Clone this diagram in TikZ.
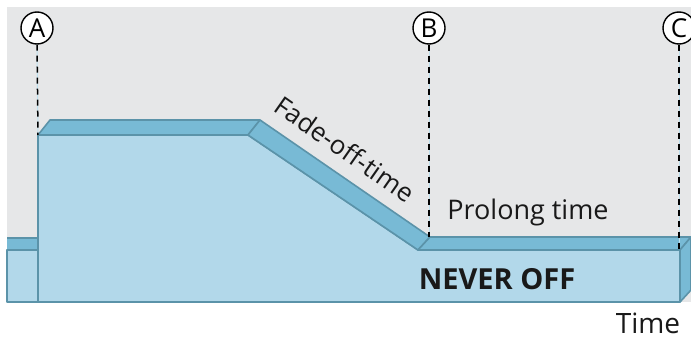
\documentclass[tikz,border=0pt]{standalone}
\usepackage{fontspec}
\setmainfont{Open Sans}
\definecolor{bggray}{HTML}{E6E7E8}
\definecolor{frontblue}{HTML}{B2D8EA}
\definecolor{topblue}{HTML}{78BAD5}
\definecolor{edgeblue}{HTML}{5B93A9}
\definecolor{paleline}{HTML}{BFE0EE}
\begin{document}
\begin{tikzpicture}[x=1pt,y=-1pt,
  face/.style={fill=frontblue,draw=edgeblue,line width=1.6pt,line join=round},
  topface/.style={fill=topblue,draw=edgeblue,line width=1.6pt,line join=round},
  marker/.style={circle,draw=black,fill=white,line width=1.4pt,minimum size=32pt,inner sep=0pt,font=\fontsize{26}{26}\selectfont},
  guide/.style={black,line width=1.5pt,dash pattern=on 6pt off 5pt},
  pale/.style={paleline,line width=1pt},
  lbl/.style={inner sep=0pt,text=black!90}]
\useasboundingbox (0,0) rectangle (691,340);
\fill[bggray] (7,7) rectangle (691,302);
% front faces
\path[face] (7,250) -- (38,250) -- (38,302) -- (7,302) -- cycle;
\path[face] (38,135) -- (248,135) -- (418,250) -- (680,250) -- (680,302) -- (38,302) -- cycle;
% top faces
\path[topface] (7,238) -- (38,238) -- (38,250) -- (7,250);
\path[topface] (38,135) -- (50,120) -- (260,120) -- (248,135) -- cycle;
\path[topface] (248,135) -- (260,120) -- (430,237) -- (418,250) -- cycle;
\path[topface] (418,250) -- (430,237) -- (691,237) -- (680,250) -- cycle;
\path[topface] (680,250) -- (691,237) -- (691,290) -- (680,302) -- cycle;
% markers
\node[marker] (A) at (37,28) {A};
\node[marker] (B) at (429,28) {B};
\node[marker] (C) at (679,28) {C};
\coordinate (a) at (38,135);
\coordinate (b) at (429,237);
\coordinate (c) at (679,249);
\draw[pale] (A.south) -- (a);
\draw[pale] (B.south) -- (b);
\draw[pale] (C.south) -- (c);
\draw[guide] (A.south) -- (a);
\draw[guide] (B.south) -- (b);
\draw[guide] (C.south) -- (c);
% labels
\node[lbl,rotate=-35,font=\fontsize{26}{28}\selectfont] (fade) at (345,149) {Fade-off-time};
\node[lbl,font=\fontsize{27}{29}\selectfont] (prolong) at (528,212) {Prolong time};
\node[lbl,font=\fontsize{29}{31}\selectfont\bfseries] (never) at (497,279) {NEVER OFF};
\node[lbl,font=\fontsize{28}{30}\selectfont] (time) at (648,323) {Time};
\end{tikzpicture}
\end{document}
